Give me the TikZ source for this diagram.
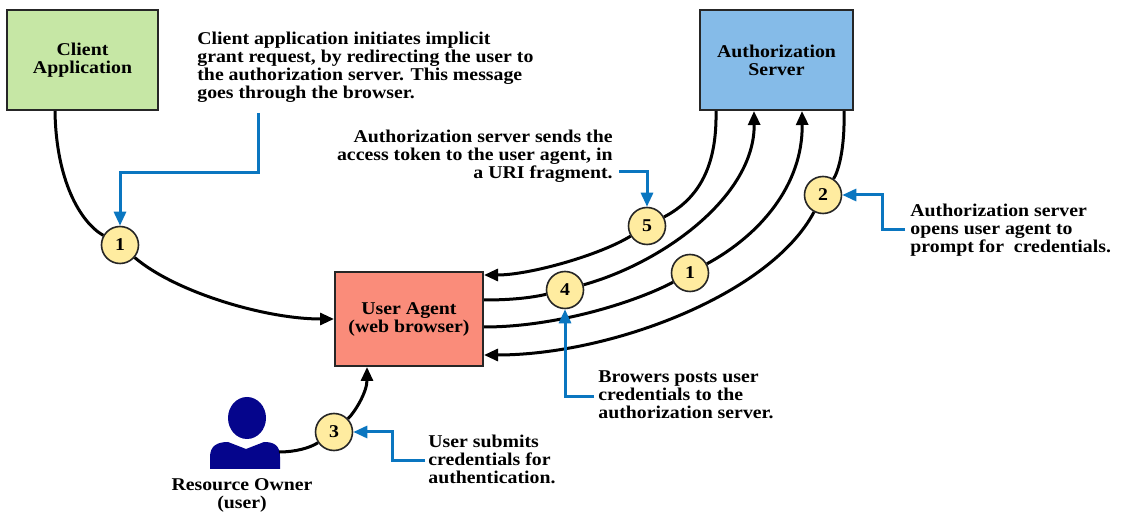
\documentclass[tikz,border=0pt]{standalone}
\usepackage{fontspec}
\setmainfont{Liberation Serif}[FakeStretch=1.1]
\usetikzlibrary{arrows.meta,calc}

\definecolor{clientgreen}{RGB}{198,231,165}
\definecolor{authblue}{RGB}{133,187,232}
\definecolor{agentred}{RGB}{250,140,122}
\definecolor{stepyellow}{RGB}{255,236,160}
\definecolor{callblue}{RGB}{10,118,192}
\definecolor{ownerblue}{RGB}{5,5,140}

\begin{document}
\begin{tikzpicture}[x=0.5pt,y=-0.5pt,
   every node/.style={font=\bfseries\fontsize{9}{9}\selectfont},
   party/.style={draw=black!85,line width=1pt,minimum height=50pt,align=center},
   stepmark/.style={draw=black!85,fill=stepyellow,circle,minimum size=18.5pt,inner sep=0pt,line width=0.8pt},
   flow/.style={line width=1.5pt},
   flowto/.style={flow,-{Triangle[length=7pt,width=6pt]}},
   callout/.style={draw=callblue,line width=1.5pt,-{Triangle[length=7pt,width=6pt]}},
   note/.style={align=left,inner sep=0pt}]

\path[use as bounding box,fill=white] (0,0) rectangle (1123,512);

\node[party,fill=clientgreen,minimum width=75.5pt] (client) at (82.5,60) {Client\\Application};
\node[party,fill=authblue,minimum width=76.5pt] (auth) at (776.5,60) {Authorization\\Server};
\node[party,fill=agentred,minimum width=74pt,minimum height=47pt] (agent) at (409,319) {User Agent\\(web browser)};

\node[stepmark] (s1a) at (120,245) {1};
\node[stepmark] (s3) at (334,432) {3};
\node[stepmark] (s5) at (647,226) {5};
\node[stepmark] (s4) at (565,290) {4};
\node[stepmark] (s1b) at (690,273) {1};
\node[stepmark] (s2) at (823,195) {2};

% resource owner
\fill[ownerblue] (247,418) ellipse [x radius=9.5pt,y radius=10.5pt];
\fill[ownerblue] (210,469) -- (210,457) .. controls (210,446) and (217,442) .. (228,442)
   -- (246,449) -- (264,442) .. controls (275,442) and (280,446) .. (280,457) -- (280,469) -- cycle;
\coordinate (usr) at (279,452);
\node[align=center] (owner) at (242,495) {Resource Owner\\(user)};

\node[note,anchor=north west] (note1) at (197,32) {Client application initiates implicit\\grant request, by redirecting the user to\\the authorization server. This message\\goes through the browser.};
\node[note,align=right,anchor=north east] (note5) at (613,130) {Authorization server sends the\\access token to the user agent, in\\a URI fragment.};
\node[note,anchor=north west] (note2) at (910,204) {Authorization server\\opens user agent to\\prompt for\ \ credentials.};
\node[note,anchor=north west] (note4) at (598,370) {Browers posts user\\credentials to the\\authorization server.};
\node[note,anchor=north west] (note3) at (428,435) {User submits\\credentials for\\authentication.};

\draw[flow] ($(client.south west)+(49,0)$) .. controls (56,180) and (80,222) .. (s1a);
\draw[flowto] (s1a) .. controls (175,292) and (265,319) .. (agent.west);
\draw[flow] (usr) .. controls (295,452) and (310,448) .. (s3);
\draw[flowto] (s3) .. controls (355,412) and (367,392) .. ($(agent.south)+(-42,0)$);
\draw[flow] ($(auth.south west)+(17,0)$) .. controls (717,165) and (700,198) .. (s5);
\draw[flowto] (s5) .. controls (600,255) and (530,275) .. ($(agent.east)+(0,-44)$);
\draw[flow] ($(agent.east)+(0,-19)$) .. controls (510,300) and (530,298) .. (s4);
\draw[flowto] (s4) .. controls (665,262) and (755,195) .. ($(auth.south west)+(55,0)$);
\draw[flow] ($(agent.east)+(0,8)$) .. controls (560,327) and (640,300) .. (s1b);
\draw[flowto] (s1b) .. controls (760,235) and (803,185) .. ($(auth.south west)+(103,0)$);
\draw[flow] ($(auth.south west)+(145,0)$) .. controls (845,150) and (838,172) .. (s2);
\draw[flowto] (s2) .. controls (770,295) and (610,355) .. ($(agent.east)+(0,36)$);

\coordinate (c1) at (258,113);
\coordinate (c5) at (619,172);
\coordinate (c2) at (905,230);
\coordinate (c4) at (594,397);
\coordinate (c3) at (425,461);
\draw[callout] (c1) -- ++(0,60) -| (s1a);
\draw[callout] (c5) -| (s5);
\draw[callout] (c2) -- ++(-23,0) |- (s2);
\draw[callout] (c4) -| (s4);
\draw[callout] (c3) -- ++(-33,0) |- (s3);

\end{tikzpicture}
\end{document}
